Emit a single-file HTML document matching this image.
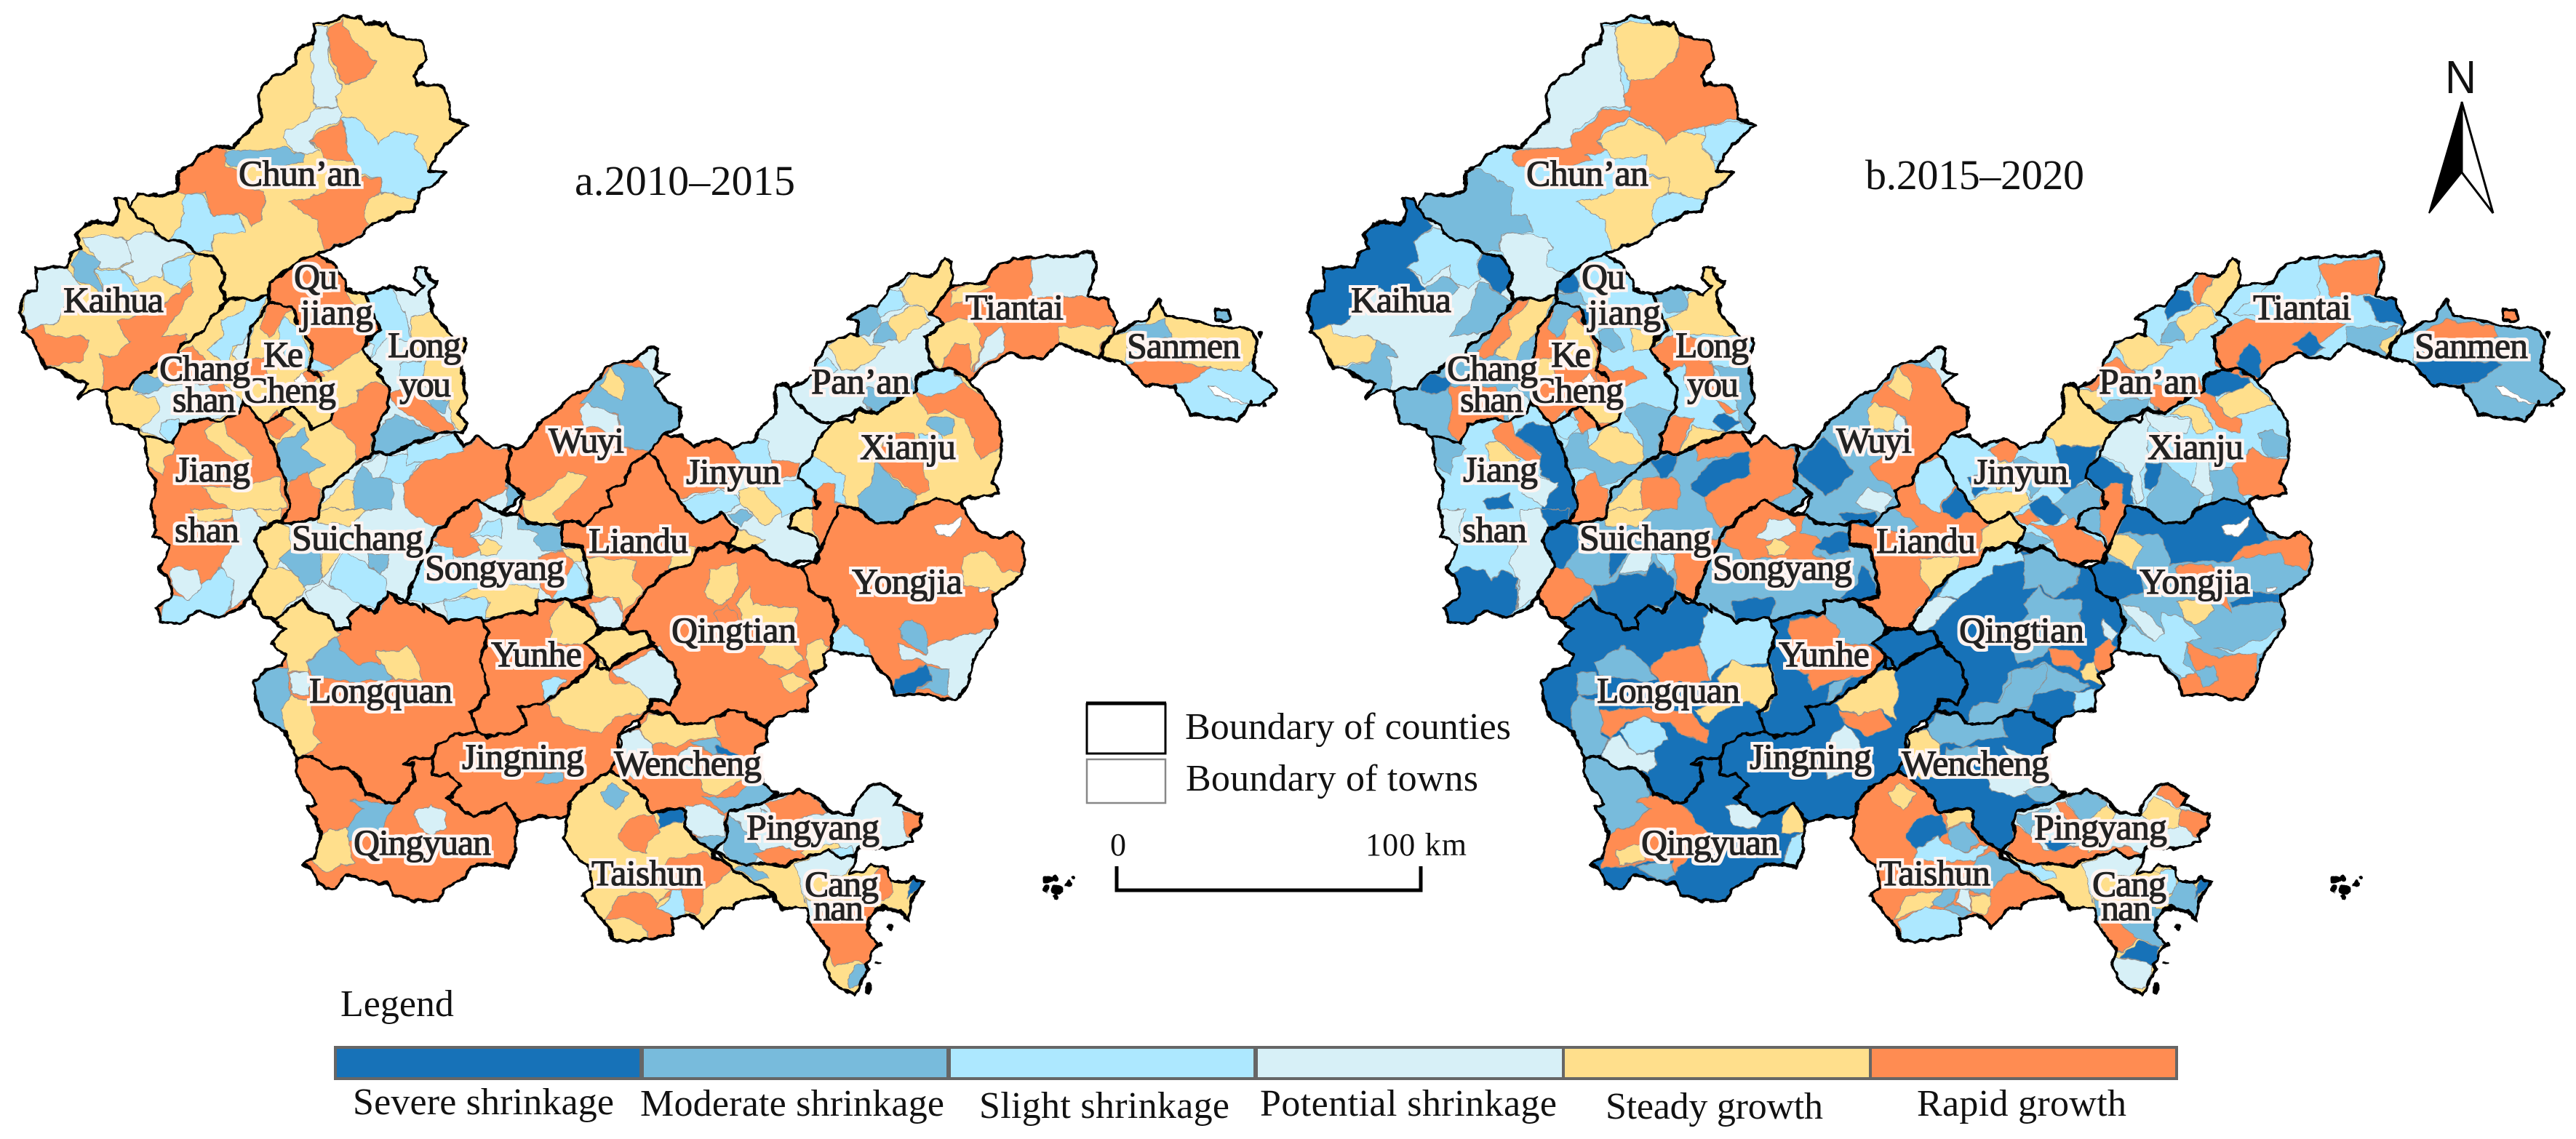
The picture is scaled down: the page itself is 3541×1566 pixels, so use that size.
<!DOCTYPE html>
<html lang="en">
<head>
<meta charset="utf-8">
<title>Shrinkage and growth maps 2010–2020</title>
<style>
html,body{margin:0;padding:0;background:#fff}
svg{display:block;position:absolute;left:0;top:0}
text{font-family:"Liberation Serif",serif;fill:#111}
.lbl{font-size:50px;fill:#222;filter:url(#halo)}
.ttl{font-size:58px}
.leg{font-size:52px}
</style>
</head>
<body>
<svg id="fig" xmlns="http://www.w3.org/2000/svg" width="3541" height="1566" viewBox="0 0 3541 1566">
<defs>
<filter id="halo" x="-15%" y="-30%" width="130%" height="160%" color-interpolation-filters="sRGB">
<feMorphology in="SourceAlpha" operator="dilate" radius="4.5" result="d"/>
<feFlood flood-color="#fff4f1"/>
<feComposite in2="d" operator="in" result="w"/>
<feMorphology in="SourceGraphic" operator="dilate" radius="0.6" result="t"/>
<feMerge><feMergeNode in="w"/><feMergeNode in="t"/></feMerge>
</filter>
<filter id="rough" filterUnits="userSpaceOnUse" x="0" y="0" width="3541" height="1566" color-interpolation-filters="sRGB">
<feTurbulence type="fractalNoise" baseFrequency="0.06" numOctaves="3" seed="4" result="n"/>
<feDisplacementMap in="SourceGraphic" in2="n" scale="10" xChannelSelector="R" yChannelSelector="G"/>
</filter>
</defs>

<g id="panel-a"></g>
<g id="panel-b" transform="translate(1770,0)"></g>

<g id="labels-a">
<text class="lbl" x="328" y="255" textLength="168">Chun’an</text>
<text class="lbl" x="87" y="429" textLength="138">Kaihua</text>
<text class="lbl" x="404" y="397" textLength="60">Qu</text>
<text class="lbl" x="413" y="446" textLength="100">jiang</text>
<text class="lbl" x="362" y="504" textLength="55">Ke</text>
<text class="lbl" x="335" y="553" textLength="127">Cheng</text>
<text class="lbl" x="219" y="523" textLength="125">Chang</text>
<text class="lbl" x="237" y="566" textLength="87">shan</text>
<text class="lbl" x="533" y="491" textLength="101">Long</text>
<text class="lbl" x="549" y="545" textLength="71">you</text>
<text class="lbl" x="241" y="662" textLength="103">Jiang</text>
<text class="lbl" x="240" y="745" textLength="89">shan</text>
<text class="lbl" x="401" y="756" textLength="181">Suichang</text>
<text class="lbl" x="584" y="797" textLength="192">Songyang</text>
<text class="lbl" x="809" y="760" textLength="137">Liandu</text>
<text class="lbl" x="754" y="622" textLength="104">Wuyi</text>
<text class="lbl" x="943" y="665" textLength="130">Jinyun</text>
<text class="lbl" x="1115" y="541" textLength="136">Pan’an</text>
<text class="lbl" x="1182" y="631" textLength="132">Xianju</text>
<text class="lbl" x="1171" y="816" textLength="152">Yongjia</text>
<text class="lbl" x="923" y="883" textLength="172">Qingtian</text>
<text class="lbl" x="1327" y="439" textLength="135">Tiantai</text>
<text class="lbl" x="1549" y="492" textLength="156">Sanmen</text>
<text class="lbl" x="675" y="916" textLength="125">Yunhe</text>
<text class="lbl" x="425" y="966" textLength="197">Longquan</text>
<text class="lbl" x="635" y="1057" textLength="168">Jingning</text>
<text class="lbl" x="844" y="1066" textLength="203">Wencheng</text>
<text class="lbl" x="486" y="1175" textLength="189">Qingyuan</text>
<text class="lbl" x="813" y="1217" textLength="153">Taishun</text>
<text class="lbl" x="1026" y="1154" textLength="183">Pingyang</text>
<text class="lbl" x="1106" y="1232" textLength="102">Cang</text>
<text class="lbl" x="1118" y="1265" textLength="69">nan</text>
</g>

<g id="labels-b" transform="translate(1770,0)">
<text class="lbl" x="328" y="255" textLength="168">Chun’an</text>
<text class="lbl" x="87" y="429" textLength="138">Kaihua</text>
<text class="lbl" x="404" y="397" textLength="60">Qu</text>
<text class="lbl" x="413" y="446" textLength="100">jiang</text>
<text class="lbl" x="362" y="504" textLength="55">Ke</text>
<text class="lbl" x="335" y="553" textLength="127">Cheng</text>
<text class="lbl" x="219" y="523" textLength="125">Chang</text>
<text class="lbl" x="237" y="566" textLength="87">shan</text>
<text class="lbl" x="533" y="491" textLength="101">Long</text>
<text class="lbl" x="549" y="545" textLength="71">you</text>
<text class="lbl" x="241" y="662" textLength="103">Jiang</text>
<text class="lbl" x="240" y="745" textLength="89">shan</text>
<text class="lbl" x="401" y="756" textLength="181">Suichang</text>
<text class="lbl" x="584" y="797" textLength="192">Songyang</text>
<text class="lbl" x="809" y="760" textLength="137">Liandu</text>
<text class="lbl" x="754" y="622" textLength="104">Wuyi</text>
<text class="lbl" x="943" y="665" textLength="130">Jinyun</text>
<text class="lbl" x="1115" y="541" textLength="136">Pan’an</text>
<text class="lbl" x="1182" y="631" textLength="132">Xianju</text>
<text class="lbl" x="1171" y="816" textLength="152">Yongjia</text>
<text class="lbl" x="923" y="883" textLength="172">Qingtian</text>
<text class="lbl" x="1327" y="439" textLength="135">Tiantai</text>
<text class="lbl" x="1549" y="492" textLength="156">Sanmen</text>
<text class="lbl" x="675" y="916" textLength="125">Yunhe</text>
<text class="lbl" x="425" y="966" textLength="197">Longquan</text>
<text class="lbl" x="635" y="1057" textLength="168">Jingning</text>
<text class="lbl" x="844" y="1066" textLength="203">Wencheng</text>
<text class="lbl" x="486" y="1175" textLength="189">Qingyuan</text>
<text class="lbl" x="813" y="1217" textLength="153">Taishun</text>
<text class="lbl" x="1026" y="1154" textLength="183">Pingyang</text>
<text class="lbl" x="1106" y="1232" textLength="102">Cang</text>
<text class="lbl" x="1118" y="1265" textLength="69">nan</text>
</g>

<text class="ttl" x="790" y="268" textLength="303">a.2010–2015</text>
<text class="ttl" x="2564" y="260" textLength="301">b.2015–2020</text>

<g>
<text x="3361" y="128" textLength="43" lengthAdjust="spacingAndGlyphs" style="font-family:'Liberation Sans',sans-serif;font-size:64px">N</text>
<polygon points="3384,140 3339,293 3384,237" fill="#000" stroke="#000" stroke-width="2"/>
<polygon points="3384,140 3427,293 3384,237" fill="#fff" stroke="#000" stroke-width="3"/>
</g>

<g>
<rect x="1494" y="968" width="108" height="68" fill="#fff" stroke="#000" stroke-width="3"/>
<line x1="1493" y1="967" x2="1603" y2="967" stroke="#000" stroke-width="5"/>
<rect x="1494" y="1044" width="108" height="60" fill="#fff" stroke="#888" stroke-width="2.5"/>
<text class="leg" x="1629" y="1016" textLength="448">Boundary of counties</text>
<text class="leg" x="1630" y="1087" textLength="402">Boundary of towns</text>
</g>

<g>
<polyline points="1535,1191 1535,1224 1953,1224 1953,1191" fill="none" stroke="#000" stroke-width="5"/>
<text class="leg" x="1526" y="1176" style="font-size:44px">0</text>
<text class="leg" x="1877" y="1176" textLength="139" style="font-size:44px">100 km</text>
</g>

<text class="leg" x="468" y="1397">Legend</text>
<g>
<rect x="461" y="1440" width="420" height="43" fill="#1772b8" stroke="#666" stroke-width="4"/>
<rect x="883" y="1440" width="420" height="43" fill="#78bbdc" stroke="#666" stroke-width="4"/>
<rect x="1305" y="1440" width="420" height="43" fill="#ade8ff" stroke="#666" stroke-width="4"/>
<rect x="1727" y="1440" width="422" height="43" fill="#d7f0f7" stroke="#666" stroke-width="4"/>
<rect x="2149" y="1440" width="422" height="43" fill="#ffdf8c" stroke="#666" stroke-width="4"/>
<rect x="2571" y="1440" width="421" height="43" fill="#ff8c52" stroke="#666" stroke-width="4"/>
<text class="leg" x="485" y="1532" textLength="359">Severe shrinkage</text>
<text class="leg" x="880" y="1534" textLength="418">Moderate shrinkage</text>
<text class="leg" x="1346" y="1537" textLength="344">Slight shrinkage</text>
<text class="leg" x="1732" y="1534" textLength="408">Potential shrinkage</text>
<text class="leg" x="2207" y="1538" textLength="299">Steady growth</text>
<text class="leg" x="2635" y="1534" textLength="288">Rapid growth</text>
</g>
</svg>

<script>
const classColors = ['#1772b8','#78bbdc','#ade8ff','#d7f0f7','#ffdf8c','#ff8c52'];
const holeColor = '#ffffff';
const frames = {A:[0,0,1/2.24],B:[700,300,1/2.24],C:[200,700,1/2.24],D:[800,800,1/2.613],O:[0,0,1]};

const counties = [
['A','965,72 1010,70 1060,50 1110,50 1125,75 1190,70 1205,105 1265,125 1300,130 1315,185 1270,235 1290,260 1335,260 1365,270 1385,320 1385,365 1440,382 1400,420 1345,475 1325,525 1375,535 1335,570 1290,590 1275,645 1235,655 1180,680 1140,700 1090,740 1000,770 960,790 925,805 880,835 830,870 825,905 780,925 740,920 695,925 680,880 690,850 670,800 600,775 575,745 520,740 480,720 465,690 430,670 395,635 430,600 490,600 550,590 550,530 590,505 630,465 680,448 720,455 770,395 805,365 800,290 825,245 880,220 910,195 915,150 965,130'],
['A','355,610 385,615 395,635 430,670 465,690 480,720 520,740 575,745 600,775 670,800 690,850 680,880 695,925 640,990 630,1020 560,1060 540,1090 470,1130 410,1170 395,1195 320,1205 290,1200 240,1225 270,1185 240,1170 170,1135 140,1130 120,1090 100,1050 70,1020 80,1000 60,955 75,905 115,895 110,825 150,825 205,820 220,780 250,765 235,720 260,690 300,680 350,690 365,650'],
['A','320,1205 395,1195 410,1170 470,1130 540,1090 560,1060 630,1020 640,990 695,925 745,922 780,925 825,905 830,930 800,980 770,1010 760,1090 760,1130 750,1240 735,1270 680,1295 640,1290 590,1300 555,1305 530,1365 480,1350 440,1345 425,1320 345,1300'],
['A','830,870 880,835 925,805 975,785 1030,820 1060,860 1065,895 1125,905 1170,1020 1125,1050 1115,1075 1150,1120 1175,1130 1160,1150 1200,1195 1190,1270 1150,1340 1150,1395 1110,1420 1060,1460 1000,1510 985,1568 978,1598 898,1613 863,1603 890,1568 880,1490 850,1390 810,1305 840,1290 900,1250 950,1290 960,1325 1020,1290 1030,1260 980,1160 950,1140 960,1110 960,1060 915,995 900,945 830,930'],
['A','830,930 900,945 915,995 960,1060 960,1110 950,1140 980,1160 1030,1260 1020,1290 960,1325 950,1290 900,1250 840,1290 810,1305 770,1260 750,1240 760,1130 760,1090 770,1010 800,980'],
['A','1065,895 1125,905 1205,885 1275,905 1300,880 1275,855 1285,825 1315,825 1320,860 1345,870 1325,900 1335,970 1390,1030 1430,1045 1420,1125 1435,1235 1410,1270 1435,1305 1420,1330 1400,1330 1350,1335 1270,1370 1200,1395 1150,1395 1150,1340 1190,1270 1200,1195 1160,1150 1175,1130 1150,1120 1115,1075 1125,1050 1170,1020 1125,905'],
['A','440,1345 480,1350 530,1365 555,1305 590,1300 640,1290 680,1295 735,1270 750,1240 770,1260 810,1305 850,1390 880,1490 890,1568 863,1603 798,1628 788,1668 823,1743 768,1838 738,1878 663,1903 613,1883 553,1918 498,1913 483,1873 533,1828 518,1778 488,1753 523,1678 468,1653 483,1628 463,1568 480,1500 460,1440'],
['O','358,727 385,716 401,720 437,713 446,674 473,652 496,634 513,623 536,623 567,612 603,596 625,594 638,614 656,600 679,616 700,612 698,663 720,678 691,706 655,688 635,700 610,720 593,738 588,755 570,790 563,818 562,827 535,814 512,843 495,832 477,850 481,865 459,865 450,845 428,838 414,823 379,852 361,847 343,820 367,778 352,745'],
['C','975,0 1019,-27 1100,14 1150,15 1195,45 1280,49 1285,109 1345,114 1350,130 1375,275 1290,280 1205,285 1205,325 1150,320 1090,330 1045,350 1030,335 930,345 855,295 860,320 810,285 815,265 830,200 870,125 880,85 930,40'],
['B','0,700 30,710 60,680 100,625 150,590 190,545 225,535 260,510 290,465 330,445 380,440 430,400 460,405 450,460 490,480 450,515 490,570 525,585 525,640 470,665 430,720 380,760 350,820 300,840 315,880 260,910 240,945 195,930 160,945 60,940 30,910 -20,910 20,905 45,860 0,815'],
['B','430,720 380,760 350,820 300,840 315,880 260,910 240,945 195,930 160,945 165,1005 225,1010 235,1070 255,1165 175,1180 235,1205 280,1265 345,1265 350,1250 415,1160 480,1090 560,1060 590,1020 650,1000 680,1005 700,960 650,905 600,940 545,895 530,870 495,830 450,735'],
['B','470,665 525,670 570,700 640,680 690,705 760,680 770,650 820,600 820,520 840,510 870,525 880,575 920,600 965,630 1000,620 945,690 935,730 895,770 890,800 935,840 950,870 950,890 885,900 860,950 930,975 960,1020 950,1060 905,1050 870,1070 810,1050 750,1010 680,1030 680,1005 700,960 650,905 600,940 545,895 530,870 495,830 450,735 430,720'],
['B','870,525 930,480 980,380 1040,365 1075,360 1070,310 1045,305 1090,280 1130,270 1170,225 1230,170 1300,180 1340,125 1365,140 1360,210 1300,295 1335,325 1285,365 1285,400 1310,470 1260,485 1250,530 1180,570 1130,600 1075,585 1060,600 1000,620 965,630 920,600 880,575'],
['B','1000,620 1060,625 1075,590 1130,600 1180,570 1250,530 1260,485 1310,470 1360,465 1420,505 1470,560 1510,620 1520,700 1505,760 1490,810 1510,850 1410,860 1390,880 1320,865 1280,880 1230,895 1200,935 1130,940 1070,890 1015,890 985,960 960,1020 930,975 860,950 885,900 950,890 950,870 935,840 890,800 895,770 935,730 945,690'],
['B','1015,890 1070,890 1130,940 1200,935 1230,895 1280,880 1320,865 1390,880 1440,960 1500,985 1550,965 1582,1000 1582,1098 1505,1153 1490,1160 1500,1250 1485,1290 1440,1340 1410,1440 1370,1485 1290,1470 1190,1470 1175,1425 1110,1350 1040,1340 1000,1330 990,1290 1010,1250 985,1180 930,1150 900,1075 945,1050 960,1020 985,960'],
['B','350,1250 415,1160 480,1090 560,1060 590,1020 650,1000 680,1010 720,1025 760,1010 810,1050 870,1070 900,1075 930,1150 985,1180 1010,1250 990,1290 1000,1330 965,1345 975,1380 930,1410 945,1440 920,1460 915,1510 918,1518 867,1518 815,1540 790,1566 738,1540 725,1518 678,1518 627,1540 592,1557 520,1553 498,1523 430,1523 438,1484 498,1497 525,1440 500,1370 445,1320 420,1270 370,1285'],
['C','360,330 400,350 430,370 385,415 430,450 420,480 380,490 335,530 345,620 380,660 430,680 465,770 510,755 555,795 625,800 660,830 680,885 710,885 740,905 775,900 825,840 825,785 795,780 810,770 880,770 900,730 950,695 1030,690 1000,625 1060,570 1030,470 1055,375 1035,350 1030,335 930,345 855,295 860,320 810,285 790,290 750,255 700,320 660,295 620,335 630,370 580,370 560,325 510,310 480,275 400,340'],
['C','1035,350 1090,330 1150,320 1205,325 1205,285 1290,280 1360,320 1400,370 1355,410 1395,450 1350,510 1220,600 1155,610 1175,665 1130,685 1050,705 1030,690 1000,625 1060,570 1030,470 1055,375'],
['C','1395,450 1430,494 1515,434 1565,424 1620,474 1645,544 1615,599 1555,584 1550,627 1505,650 1460,691 1470,720 1434,807 1344,858 1310,900 1300,945 1200,950 1145,965 1130,930 1110,905 1060,930 1005,945 930,890 970,850 935,815 880,820 880,770 900,730 950,695 1030,690 1050,705 1130,685 1175,665 1155,610 1220,600 1350,510'],
['B','235,1310 280,1265 345,1265 365,1280 425,1270 445,1310 395,1330 345,1355 310,1390 270,1380 275,1340'],
['C','465,770 510,755 555,795 625,800 660,830 680,885 710,885 740,905 775,900 825,840 825,785 795,780 810,770 880,770 880,820 935,815 970,850 930,890 1005,945 1060,930 1110,905 1130,930 1150,965 1140,1050 1115,1105 1080,1090 1000,1100 985,1135 920,1170 905,1205 830,1205 765,1185 745,1150 690,1150 615,1125 585,1170 530,1155 510,1110 485,1095 520,1075 540,1000 500,915 525,905 465,830'],
['D','240,470 195,495 205,520 135,545 125,580 135,610 105,680 185,735 235,790 250,830 350,810 375,830 370,880 400,920 470,965 510,940 525,900 515,870 530,825 650,800 700,760 650,720 625,600 665,575 660,525 600,490 585,465 530,465 470,490 430,510 345,505 320,470'],
['D','0,740 105,680 185,735 235,790 250,830 290,825 350,810 375,830 370,880 400,920 470,965 470,990 540,1030 590,1065 650,1095 690,1125 640,1135 555,1150 545,1175 500,1170 440,1245 385,1195 320,1215 320,1270 240,1280 160,1295 110,1285 80,1220 0,1125 36,1104 25,1016 -16,999 -69,917 -51,841 -40,789'],
['D','530,825 650,800 700,770 760,760 780,745 830,770 860,790 885,825 970,840 980,790 1040,730 1100,735 1140,770 1125,805 1225,835 1215,880 1180,910 1185,935 1130,950 1060,960 1000,950 985,990 930,990 890,965 800,990 730,1020 660,1010 590,1020 540,1000 470,965 510,940 525,900 515,870'],
['D','470,965 540,1000 590,1020 660,1010 730,1020 800,990 890,965 930,990 985,990 960,1050 1010,1040 1040,1015 1100,1030 1110,1075 1165,1080 1190,1060 1225,1080 1185,1140 1175,1215 1140,1185 1090,1170 1050,1180 1020,1250 1060,1300 1020,1370 1030,1390 1000,1440 975,1490 955,1470 920,1455 890,1420 870,1370 885,1330 860,1280 810,1220 805,1175 770,1165 715,1180 690,1125 650,1095 590,1065 540,1030'],
['O','1280,432 1307,394 1355,388 1372,362 1411,354 1468,352 1502,347 1507,365 1496,405 1524,413 1535,444 1524,472 1507,492 1456,472 1434,492 1383,487 1344,510 1334,525 1307,507 1285,510 1273,479 1273,463 1296,445'],
['O','1513,490 1524,462 1552,449 1575,439 1592,411 1603,434 1660,446 1722,454 1728,474 1722,510 1750,530 1755,536 1733,556 1716,558 1699,579 1637,569 1614,530 1575,530 1547,502'],
['O','1671,428 1688,426 1690,436 1680,441 1671,437']
];

const baseA = [4,4,4,4,4,3,5,3,3,5,5,3,3,4,5,5,5,5,5,4,5,5,4,3,4,5,2,1];
const baseB = [2,3,1,2,5,2,2,1,1,1,5,2,2,2,1,0,0,0,0,0,0,0,5,3,4,2,1,5];

const patchesA = [
['A',3,'965,85 1005,80 1015,190 1050,265 1035,300 1040,330 970,330 960,240'],
['A',3,'1040,330 1060,350 1050,370 985,395 950,430 985,465 910,475 870,425 880,400 950,370 970,335'],
['A',5,'1010,85 1060,60 1050,85 1160,190 1110,245 1060,265 1035,210 1010,140'],
['A',5,'950,430 1055,370 1065,440 1105,480 1080,500 1000,490 990,460'],
['A',2,'1055,365 1100,365 1130,405 1165,445 1210,405 1285,415 1270,460 1310,490 1325,530 1375,535 1335,570 1280,615 1175,590 1175,545 1105,540 1080,480 1065,430'],
['A',1,'690,490 705,462 800,465 880,450 905,475 940,475 935,500 880,510 710,510'],
['A',5,'550,590 550,530 590,505 630,465 680,448 700,462 690,510 735,520 740,570 810,590 820,620 810,675 775,700 740,650 690,665 660,665 630,590 570,600'],
['A',5,'890,620 1000,590 1050,550 1175,545 1175,590 1130,615 1125,670 1140,690 1090,735 1000,765 980,710 980,680 920,650'],
['A',2,'570,600 625,595 660,665 735,655 755,715 660,725 655,775 600,770 575,745 520,740 555,700 565,620'],
['A',3,'250,735 335,725 395,740 410,770 405,800 365,825 310,825 285,780'],
['A',3,'385,740 445,710 520,745 575,750 600,775 550,790 500,815 495,850 430,870 365,830 410,800'],
['A',1,'250,770 285,790 310,810 295,835 300,860 325,905 235,860 220,810'],
['A',2,'295,830 365,830 425,880 430,900 325,905'],
['A',2,'600,785 580,820 590,860 555,890 500,860 500,815 550,795'],
['A',3,'115,830 205,825 235,860 260,900 200,930 180,990 140,1000 90,1015 70,965 80,905 115,895'],
['A',5,'590,870 595,900 560,950 515,1010 500,1035 580,1030 560,1060 540,1090 470,1130 410,1170 395,1195 310,1205 320,1135 305,1090 340,1100 405,1050 380,1030 360,985 460,960 520,930 560,890'],
['A',5,'75,1015 130,1005 145,1030 250,1035 270,1050 260,1110 180,1125 140,1125 100,1050'],
['A',2,'825,910 780,1010 770,1060 720,1070 700,1130 640,1080 680,1040 690,985 745,960 760,925'],
['A',3,'770,1010 750,1050 720,1090 750,1130 760,1100'],
['A',5,'540,1090 590,1065 630,1100 660,1130 680,1180 690,1200 640,1220 530,1180 490,1120'],
['A',3,'415,1215 490,1190 640,1180 700,1190 750,1240 735,1270 640,1290 555,1305 525,1365 430,1320 490,1270 480,1225'],
['A',1,'410,1175 450,1150 510,1170 490,1200 440,1215 410,1200'],
['A',2,'500,1300 550,1290 555,1305 525,1365 495,1330'],
['A',5,'640,1190 690,1180 700,1220 650,1230'],
['A',5,'830,935 900,945 860,1000 830,1040 800,1010'],
['A',2,'860,1000 880,980 915,1010 950,1070 950,1130 890,1130 860,1060'],
['A',5,'760,1110 810,1100 830,1170 760,1170'],
['A',5,'930,1150 960,1130 1000,1160 950,1190'],
['A',-1,'900,1170 930,1145 945,1180 915,1190'],
['A',5,'810,1305 850,1265 905,1310 855,1360'],
['A',5,'830,870 880,835 925,805 975,785 1030,820 1060,860 1065,895 1085,930 1160,960 1175,1020 1115,1075 1010,1150 960,1100 955,1060 915,1000 900,940 830,930'],
['A',2,'960,1100 1000,1120 1030,1140 975,1150 950,1130'],
['A',5,'1100,1210 1150,1170 1200,1195 1190,1270 1145,1340 1140,1400 1095,1425 1095,1370 1020,1300 1030,1260 1095,1240'],
['A',1,'850,1370 940,1320 950,1350 925,1380 1000,1430 945,1460 880,1480'],
['A',5,'890,1480 950,1450 960,1500 990,1510 980,1568 978,1598 898,1613 863,1603 890,1568'],
['A',2,'1125,905 1205,890 1230,940 1250,960 1265,1030 1270,1050 1190,1040 1140,1110 1150,1060 1125,1050 1170,1020 1150,960'],
['A',4,'1265,975 1335,965 1390,1030 1430,1045 1420,1125 1435,1235 1410,1270 1435,1305 1420,1325 1390,1300 1385,1240 1310,1200 1300,1130 1270,1050'],
['A',5,'1195,1220 1230,1200 1290,1220 1340,1260 1405,1320 1350,1335 1255,1280'],
['A',1,'1310,1225 1385,1235 1370,1270 1340,1260'],
['A',1,'1150,1340 1215,1275 1260,1295 1350,1335 1270,1370 1200,1395 1150,1395'],
['A',2,'1230,1120 1310,1110 1300,1170 1230,1180'],
['A',4,'440,1345 530,1365 540,1380 500,1410 510,1440 500,1470 465,1430'],
['A',4,'625,1320 690,1290 700,1340 780,1400 770,1430 730,1420 680,1380 640,1350'],
['A',4,'620,1500 720,1500 860,1470 880,1568 700,1568'],
['C',4,'140,0 280,0 260,30 170,40'],
['C',4,'340,0 415,0 415,35 360,55'],
['C',3,'270,0 330,0 370,40 340,100 375,175 320,270 260,310 260,230 235,180 265,110'],
['C',2,'50,300 85,265 130,280 175,230 230,180 270,220 260,310 215,335 165,315 105,350 50,345'],
['C',3,'75,190 105,175 160,190 175,240 130,285 85,240'],
['C',4,'355,60 415,35 440,60 450,120 400,180 375,175 340,100'],
['C',4,'375,175 410,180 450,190 500,250 440,290 400,340 360,330 320,270'],
['C',1,'410,155 450,125 540,130 545,220 490,245 450,190'],
['C',4,'545,130 600,130 570,180 545,220'],
['C',2,'570,200 610,130 660,155 680,165 740,215 745,265 720,310 660,295 620,270 565,230'],
['C',1,'690,140 750,140 745,180 720,200 690,170'],
['C',3,'495,260 545,225 565,235 660,290 620,335 630,370 580,370 560,325 510,310'],
['A',5,'1240,1490 1310,1420 1420,1390 1470,1350 1520,1385 1565,1385 1560,1510 1445,1568 1395,1610 1330,1620 1250,1568'],
['A',1,'1085,1470 1120,1430 1170,1470 1210,1480 1210,1568 1090,1568'],
['A',4,'995,1550 1060,1480 1090,1480 1090,1568 990,1568'],
['C',4,'540,0 680,0 640,50 530,40'],
['A',2,'1150,1400 1250,1400 1300,1420 1240,1490 1210,1480 1170,1470 1120,1430'],
['A',3,'1115,1430 1170,1400 1195,1400 1185,1450 1150,1470'],
['A',2,'1250,1380 1400,1335 1430,1390 1310,1420 1250,1430'],
['B',1,'0,815 45,860 20,905 -5,915 -10,840'],
['C',5,'930,40 975,0 1019,-27 1040,30 1000,80 1040,130 960,150 935,130 880,95'],
['C',2,'820,225 885,110 945,120 950,160 1000,215 1050,230 960,270 930,275 860,290 815,280'],
['C',2,'1050,35 1100,30 1095,90 1060,80 1000,90 1030,60'],
['C',4,'1020,120 1060,90 1095,110 1080,140 1030,145'],
['C',1,'1150,15 1195,45 1280,60 1285,125 1220,135 1195,95 1210,70 1150,60'],
['C',5,'1205,150 1285,125 1320,120 1320,180 1250,280 1210,230'],
['C',4,'1285,120 1345,115 1345,165 1320,170'],
['C',2,'1320,170 1345,190 1375,275 1290,280 1250,275'],
['C',4,'960,270 1050,230 1130,235 1210,240 1205,325 1150,320 1090,330 1045,335 1060,290'],
['C',2,'920,280 1040,275 1055,290 1045,345 1030,335 930,345'],
['B',1,'240,550 280,490 330,450 430,460 450,520 490,570 525,590 525,640 470,665 430,715 350,705 335,600 215,570'],
['B',4,'280,520 310,460 355,510 345,560 320,545'],
['B',3,'390,430 430,400 460,405 450,460 490,480 450,515 430,465'],
['B',3,'215,590 240,570 335,605 340,680 290,650 230,640'],
['B',4,'35,870 100,860 180,780 245,800 185,860 135,910 160,945 60,940'],
['B',5,'450,735 430,720 470,665 525,670 570,700 640,680 690,705 720,775 700,840 640,830 530,860 495,830'],
['B',2,'690,705 760,680 800,690 805,760 780,770 720,775'],
['B',5,'805,745 895,750 880,790 845,800 810,790'],
['B',2,'535,870 590,850 650,835 725,870 670,905 650,905 600,940 545,895'],
['B',4,'700,840 760,820 840,900 790,950 720,880'],
['B',1,'670,910 725,895 750,915 715,955'],
['B',2,'770,830 850,810 890,800 950,870 950,890 885,900 840,925 830,890'],
['B',4,'680,1005 705,960 790,990 750,1010 700,1030'],
['B',4,'1210,210 1240,170 1300,180 1340,125 1365,140 1360,210 1300,295 1280,270 1230,265 1200,215'],
['B',2,'1130,270 1170,225 1205,225 1225,265 1130,310'],
['B',1,'1050,310 1090,280 1130,275 1145,310 1110,360 1075,360'],
['B',1,'1140,320 1165,315 1195,375 1115,390'],
['B',4,'1165,320 1230,270 1280,270 1295,320 1250,345 1200,385'],
['B',4,'980,390 1040,365 1080,360 1110,395 1160,395 1110,440 1060,470 1020,470 1005,430'],
['B',1,'1100,525 1130,520 1240,490 1250,530 1180,570 1130,600 1090,575'],
['B',2,'950,450 980,430 1010,470 960,500'],
['B',2,'1250,530 1260,485 1310,470 1360,465 1400,510 1340,535 1280,550'],
['B',5,'1250,530 1280,550 1340,535 1400,510 1470,560 1510,620 1520,700 1450,745 1420,660 1400,620 1340,590 1290,610 1260,560'],
['B',1,'1280,635 1320,610 1370,620 1370,660 1340,670 1300,650'],
['B',5,'1160,660 1240,660 1260,700 1290,830 1250,860 1220,820 1130,755'],
['B',1,'1070,855 1110,830 1130,755 1220,830 1260,870 1230,895 1200,935 1130,940 1075,890'],
['B',2,'895,770 940,730 1000,780 1035,795 1030,850 1040,880 990,880 955,835 935,840 890,800'],
['B',5,'935,845 970,815 1005,820 1000,870 1040,885 1015,890 985,960 960,1010 935,960'],
['B',2,'1260,665 1330,665 1340,750 1270,720'],
['B',4,'1395,1040 1470,1020 1520,1085 1575,1095 1582,1098 1505,1153 1480,1145 1400,1130'],
['B',2,'990,1290 1030,1255 1085,1290 1115,1350 1040,1340 1000,1330'],
['B',1,'1200,1265 1240,1235 1280,1260 1295,1300 1285,1340 1210,1300'],
['B',3,'1195,1310 1285,1345 1290,1315 1380,1290 1490,1260 1485,1290 1440,1340 1410,1440 1370,1485 1350,1470 1355,1390 1260,1360 1210,1360'],
['B',1,'1285,1380 1355,1390 1350,1470 1260,1445 1305,1430'],
['B',0,'1190,1420 1235,1400 1285,1370 1305,1430 1260,1440 1255,1465 1185,1465'],
['B',-1,'1310,950 1350,945 1390,920 1400,930 1360,980 1320,970'],
['B',-1,'1440,1140 1475,1135 1470,1150 1445,1150'],
['B',4,'490,1080 495,1040 555,1010 580,1020 560,1060'],
['B',4,'230,1040 300,1050 385,1055 380,1110 415,1150 350,1215 340,1170 245,1160'],
['B',3,'250,1190 320,1165 350,1220 345,1265 280,1265'],
['B',4,'615,1085 700,1065 705,1115 690,1170 640,1190 600,1150 620,1110'],
['B',4,'700,1190 735,1130 750,1190 885,1200 880,1300 790,1310 770,1355 850,1390 905,1360 870,1300 790,1250 720,1240'],
['B',5,'630,1215 670,1190 710,1240 650,1260'],
['B',4,'915,1310 960,1300 990,1320 965,1345 975,1380 930,1400 910,1350'],
['B',4,'830,1420 870,1395 920,1430 860,1460'],
['C',4,'1235,600 1350,510 1395,465 1430,495 1435,540 1500,530 1568,580 1550,627 1505,630 1445,640 1400,690 1340,680 1260,640'],
['C',1,'1205,845 1230,815 1290,810 1280,835'],
['D',3,'115,320 280,235 355,370 320,440 250,425 200,380 130,340'],
['C',1,'630,895 680,900 715,905 770,910 745,945 730,985 690,1000 625,1020 615,985 670,925'],
['C',3,'825,935 880,910 925,940 920,985 880,1005 840,980'],
['C',4,'510,1080 540,1000 620,975 625,1030 640,1090 600,1090 555,1120'],
['C',4,'430,370 400,340 480,275 510,310 560,325 580,370 600,385 585,395 550,425 500,465 500,500 440,500 430,450 385,415'],
['C',1,'500,470 545,430 590,395 605,440 650,480 680,475 730,470 760,530 690,530 630,535 510,510'],
['C',4,'705,440 780,440 810,420 845,480 850,530 790,520 765,530'],
['C',1,'335,530 380,490 440,490 445,570 450,610 425,620 430,680 380,660 345,620'],
['C',3,'445,505 500,500 510,540 500,575 450,565'],
['C',4,'450,570 510,600 520,690 545,720 465,770 430,680 420,620'],
['C',4,'1240,340 1290,280 1360,320 1400,370 1355,410 1340,420 1250,410 1250,370'],
['C',2,'1220,535 1260,515 1295,530 1230,595'],
['D',4,'205,520 240,480 320,470 345,505 430,510 470,490 490,555 390,565 340,600 300,580 250,590'],
['D',3,'135,545 205,530 250,590 270,650 190,710 125,660 135,600'],
['D',1,'390,575 480,560 510,600 470,620 430,600'],
['D',0,'480,595 510,595 590,630 550,635 490,615'],
['D',3,'340,620 395,590 440,620 420,690 340,680'],
['D',4,'410,700 630,700 560,720 480,770 430,740'],
['D',1,'435,770 480,775 540,770 600,730 650,720 695,760 650,800 530,825 510,830'],
['D',0,'270,830 350,810 375,830 370,860 320,870 285,890'],
['D',3,'365,800 430,800 510,835 515,910 480,920 410,915 370,880'],
['D',1,'410,920 480,910 525,910 510,940 470,965'],
['D',1,'70,760 110,725 170,765 120,815 80,790'],
['D',5,'125,905 170,855 250,835 285,895 235,930 235,975 165,960'],
['D',5,'310,1000 430,965 540,1035 440,1110 430,1170 405,1200 365,1170 360,1110 280,1145 320,1105 240,1100'],
['D',5,'80,1215 130,1130 220,1110 280,1150 270,1175 330,1210 320,1270 240,1280 215,1230 140,1205'],
['D',2,'275,1175 310,1145 325,1105 360,1110 375,1190 330,1210'],
['D',1,'530,840 580,880 615,930 650,965 620,1010 590,1015 540,1000 505,965 510,930 520,880'],
['D',5,'660,800 760,760 780,745 850,790 880,830 800,840 750,870 700,860'],
['D',5,'620,980 680,950 760,960 830,960 800,990 730,1020 660,1010'],
['D',4,'790,970 900,940 930,960 890,965 800,990'],
['D',2,'900,960 975,950 985,990 930,990'],
['D',5,'1150,825 1225,835 1215,880 1170,920 1150,870'],
['D',2,'640,815 690,850 660,860'],
['D',1,'470,990 540,1030 590,1020 650,1040 670,1065 620,1070 560,1035'],
['D',3,'765,1015 890,965 930,990 985,990 945,1050 880,1060 810,1070 800,1100 800,1150'],
['D',3,'805,1130 840,1160 900,1150 830,1220 810,1210'],
['D',5,'1040,1060 1070,1025 1100,1030 1115,1115 1090,1150 1010,1150 900,1150 820,1220 860,1280 885,1330 910,1380 980,1360 1020,1370 1060,1300 1020,1250 1050,1180'],
['D',1,'975,1380 1020,1370 1030,1390 1000,1440 960,1460 955,1430'],
['D',0,'1185,1070 1200,1060 1225,1080 1185,1125 1165,1135'],
['D',2,'1075,1165 1130,1175 1175,1215 1140,1185'],
['O',3,'1418,357 1502,347 1507,365 1496,408 1418,408'],
['B',4,'1365,225 1450,195 1480,210 1400,250 1360,270'],
['B',4,'1285,360 1360,310 1430,310 1455,400 1425,470 1420,390 1375,380 1340,440 1320,470 1295,420'],
['B',3,'1430,470 1470,370 1520,330 1530,400 1475,440'],
['O',4,'1456,449 1530,449 1507,490 1456,470'],
['O',4,'1575,434 1592,411 1603,434 1722,454 1728,490 1705,510 1660,505 1581,490'],
['O',1,'1552,451 1603,439 1609,464 1564,469'],
['O',5,'1547,502 1581,492 1665,505 1637,525 1575,530'],
['O',4,'1513,490 1524,462 1552,454 1547,502'],
['O',-1,'1662,532 1668,540 1700,554 1715,556 1700,548 1672,532']
];

const patchesB = [
['A',3,'965,85 1005,80 1015,130 1040,330 970,330 950,360 880,400 870,455 700,458 770,395 805,375 800,290 825,245 880,220 910,195 915,150 965,130'],
['A',4,'1010,85 1050,65 1125,75 1190,70 1205,110 1195,180 1110,245 1060,265 1035,210 1010,140'],
['A',5,'1205,110 1265,125 1300,130 1315,185 1270,235 1290,260 1335,260 1365,270 1385,320 1385,365 1285,390 1210,405 1165,445 1130,400 1055,360 1060,330 1040,330 1035,290 1060,250 1110,245 1195,180'],
['A',5,'1055,340 1060,360 985,390 950,430 985,465 910,480 945,490 880,510 710,510 690,490 705,462 870,455 870,420 950,370 970,335'],
['A',2,'1285,390 1385,375 1440,382 1345,475 1325,500 1270,455 1285,415'],
['A',4,'950,430 1055,370 1130,405 1165,445 1210,405 1285,415 1270,460 1310,490 1325,530 1375,535 1290,590 1275,615 1175,590 1175,545 1105,540 1105,480 1000,490 985,465'],
['A',4,'890,620 1000,590 1050,550 1175,545 1175,590 1130,615 1125,670 1140,690 1090,735 1000,765 980,710 980,680 920,650'],
['A',1,'395,635 430,600 490,600 550,590 550,530 595,520 690,580 685,665 735,655 755,715 660,725 655,775 600,770 575,745 520,740 480,720 465,690 430,670'],
['A',3,'660,730 700,720 800,730 815,760 795,790 800,820 850,845 825,905 780,925 740,920 695,925 680,880 690,850 670,800 655,775'],
['A',0,'355,610 385,615 395,635 450,695 385,740 405,770 405,800 365,825 425,880 430,895 325,905 280,890 215,930 190,990 140,1000 90,1015 70,1020 80,1000 60,955 75,905 115,895 110,825 150,825 205,820 220,780 250,765 235,720 260,690 300,680 350,690 365,650'],
['A',2,'385,740 450,700 520,745 575,750 600,775 580,820 595,860 555,890 495,860 500,815 430,870 365,825 405,795'],
['A',0,'600,780 670,800 690,850 680,880 650,910 620,880 580,830'],
['A',1,'430,885 490,850 530,885 500,915 430,900'],
['A',1,'590,870 615,880 650,910 695,925 640,990 630,1020 560,1030 500,1035 520,1000 565,950'],
['A',4,'75,1015 130,1005 145,1030 250,1035 270,1050 260,1110 180,1125 140,1125 100,1050'],
['A',1,'175,1135 260,1110 270,1050 330,1080 340,1100 305,1100 320,1130 315,1205 240,1225 270,1185 240,1170'],
['A',5,'580,1090 640,1010 700,930 745,925 690,985 680,1040 630,1090 600,1100'],
['A',4,'745,925 825,910 780,1005 720,1070 700,1115 635,1090 680,1040 690,985'],
['A',0,'410,1175 450,1150 510,1170 490,1200 440,1215 410,1200'],
['A',5,'495,1190 640,1190 640,1220 670,1290 590,1300 555,1305 530,1365 495,1320 510,1260'],
['A',3,'700,1190 750,1240 735,1270 680,1290 670,1220'],
['A',1,'830,935 900,945 860,1000 830,1040 800,1010'],
['A',4,'860,990 880,980 915,1010 950,1070 950,1130 880,1130 850,1050'],
['A',4,'770,1110 810,1100 830,1170 760,1170'],
['A',-1,'900,1170 930,1145 945,1180 915,1190'],
['A',0,'900,950 930,950 925,1000 905,990'],
['A',4,'920,1180 1000,1200 1030,1270 1020,1300 960,1300 915,1260'],
['A',0,'830,870 880,835 900,880 890,900 830,900'],
['A',1,'830,905 900,900 925,940 830,935'],
['A',4,'1060,1010 1130,1030 1170,1020 1115,1075 1060,1080'],
['A',1,'950,1020 1000,1010 1040,1070 1005,1085 965,1060'],
['A',5,'955,1110 1000,1150 1065,1130 1105,1160 1040,1190 1010,1210 950,1170'],
['A',1,'1030,1260 1095,1240 1190,1270 1145,1340 1140,1400 1060,1460 990,1490 960,1500 950,1450 860,1440 850,1390 870,1340 920,1330 930,1370 1000,1400 1095,1400 1095,1360'],
['A',4,'925,1380 985,1310 1060,1340 1095,1375 1095,1425 1000,1425'],
['A',2,'810,1305 850,1265 905,1310 855,1360'],
['A',5,'880,1270 905,1250 955,1290 950,1320 905,1335'],
['A',5,'890,1480 950,1450 960,1500 990,1510 980,1568 978,1598 898,1613 863,1603 890,1568'],
['A',1,'1125,905 1205,885 1235,930 1230,960 1170,965'],
['A',4,'1230,905 1275,905 1300,880 1275,855 1285,825 1315,825 1320,860 1345,870 1325,900 1335,970 1390,1030 1270,1030 1190,1030 1160,985 1235,955'],
['A',5,'1115,1075 1150,1050 1190,1030 1270,1040 1310,1130 1310,1225 1385,1265 1350,1270 1320,1230 1230,1200 1220,1120 1160,1150 1150,1120'],
['A',1,'1310,1130 1420,1125 1435,1235 1410,1270 1435,1305 1420,1325 1390,1300 1385,1240'],
['A',0,'1310,1300 1345,1270 1395,1300 1350,1330'],
['A',5,'1150,1340 1195,1280 1250,1290 1205,1395 1150,1395'],
['A',4,'1205,1395 1250,1310 1350,1330 1270,1370'],
['A',1,'440,1345 530,1365 550,1380 505,1410 510,1440 500,1470 465,1430'],
['A',5,'625,1320 690,1290 700,1340 780,1400 770,1430 730,1420 680,1380 640,1350'],
['A',0,'700,1340 730,1300 815,1315 850,1390 880,1490 885,1568 860,1600 800,1625 780,1560 830,1500 775,1450 780,1395'],
['A',4,'615,1370 650,1360 720,1420 650,1430 620,1420'],
['A',3,'770,1460 830,1490 790,1560 720,1520'],
['A',0,'600,1540 680,1520 690,1568 620,1568'],
['C',3,'265,100 270,0 340,0 370,40 340,100 375,175 320,270 260,310 265,220 235,170'],
['C',3,'20,0 100,0 80,60 95,105 70,110 20,85 35,60'],
['C',0,'60,200 75,190 105,175 160,190 180,220 210,185 260,210 260,310 215,335 165,315 105,350 50,345 35,305 85,260 70,210'],
['C',0,'330,0 415,0 415,35 355,60'],
['C',0,'355,60 415,35 445,65 450,120 400,180 375,175 340,100'],
['C',5,'375,175 410,180 460,220 500,250 440,290 400,340 360,330 320,270'],
['C',4,'530,30 540,0 680,0 640,50 530,50'],
['C',0,'545,130 600,130 570,180 545,220'],
['C',0,'500,240 560,225 570,205 650,200 680,160 740,215 745,265 720,310 660,295 620,335 630,370 580,370 560,325 510,310'],
['C',3,'570,200 610,130 680,120 660,190'],
['C',2,'690,140 750,140 745,180 720,200'],
['A',5,'1090,1470 1180,1470 1210,1490 1200,1568 1090,1568'],
['A',0,'1115,1420 1170,1400 1200,1400 1190,1450 1150,1470'],
['A',0,'1240,1490 1310,1420 1420,1390 1425,1460 1340,1490 1290,1530 1240,1510'],
['A',4,'995,1550 1060,1480 1090,1480 1090,1568 990,1568'],
['A',5,'1255,1380 1350,1335 1400,1330 1430,1375 1470,1350 1520,1385 1560,1385 1560,1510 1445,1568 1395,1610 1330,1625 1290,1560 1290,1530 1340,1490 1425,1460 1420,1390 1260,1420'],
['C',5,'740,140 880,85 830,200 815,265 790,290 750,240'],
['C',5,'930,40 975,0 1019,-27 1100,14 1150,15 1130,70 1200,100 1170,135 1215,160 1000,150 960,160 940,130 880,100'],
['C',3,'1040,30 1100,30 1115,70 1075,90 1020,100 995,90'],
['C',4,'1020,120 1060,90 1095,110 1080,140 1030,145'],
['C',0,'1180,120 1210,80 1280,70 1285,125 1220,145'],
['C',0,'1320,180 1345,190 1375,275 1290,280 1250,275 1310,230'],
['C',0,'920,280 1040,275 1055,290 1040,320 1030,335 930,345'],
['B',5,'240,545 280,500 330,450 430,460 450,520 490,570 525,590 525,640 470,665 430,720 380,760 350,820 300,840 235,790 225,760 280,720 345,700 335,610 225,570'],
['B',4,'280,520 310,460 355,510 345,560 320,545'],
['B',3,'390,430 430,400 460,405 450,460 490,480 450,515 430,465'],
['B',4,'215,590 240,570 310,590 305,640 280,660 225,640'],
['B',3,'295,640 315,600 335,620 335,665'],
['B',0,'20,740 85,670 130,720 170,780 130,830 90,860 30,800 0,780'],
['B',3,'180,880 220,825 300,860 260,910'],
['B',0,'130,910 240,905 240,945 160,945'],
['B',5,'595,710 640,680 690,705 660,750 620,745'],
['B',4,'620,745 660,755 690,820 610,830'],
['B',0,'525,800 560,785 590,830 550,855'],
['B',1,'665,745 700,735 800,790 720,860 700,820'],
['B',0,'800,700 935,705 900,770 890,800 850,830 840,860 800,830 805,760'],
['B',4,'535,865 610,840 700,845 725,870 670,905 650,905 600,940 545,895'],
['B',0,'720,880 760,850 790,880 840,900 790,950 730,910'],
['B',1,'850,830 890,810 950,870 950,890 885,900 860,950 790,880'],
['B',4,'570,960 650,905 700,960 680,1005 650,1000 590,1020 565,1030'],
['B',5,'665,915 720,895 750,930 710,950'],
['B',5,'720,945 800,950 855,925 880,965 960,1020 950,1060 905,1050 870,1070 810,1050 790,990'],
['B',1,'680,1015 700,965 790,990 750,1010 700,1030'],
['B',1,'860,950 885,900 950,890 935,975'],
['B',4,'770,650 820,600 820,520 840,510 870,525 880,575 920,600 965,630 1000,620 945,690 935,705 800,700 765,670'],
['B',0,'1130,270 1170,225 1205,225 1225,265 1140,310'],
['B',5,'1215,210 1240,170 1285,185 1290,210 1260,250 1230,265'],
['B',4,'1285,190 1340,125 1365,140 1360,210 1300,295 1280,270 1240,260'],
['B',4,'1165,320 1230,270 1280,270 1295,320 1250,345 1200,385'],
['B',1,'1140,320 1165,315 1195,375 1115,390'],
['B',4,'980,390 1040,365 1080,360 1110,395 1160,395 1110,440 1060,470 1020,470 1005,430'],
['B',5,'950,450 985,430 1040,480 960,480 920,530 885,520 925,490'],
['B',4,'870,530 925,530 950,570 920,600 880,575'],
['B',1,'920,600 960,560 1090,555 1075,585 1060,600 1000,620 965,630'],
['B',5,'1090,520 1240,490 1250,530 1180,570 1130,600 1090,575'],
['B',0,'1250,530 1260,485 1310,470 1360,465 1400,510 1340,530 1280,550'],
['B',5,'1225,555 1250,530 1285,555 1330,610 1370,620 1370,660 1290,640 1255,570'],
['B',4,'1290,560 1340,530 1400,510 1470,570 1380,600 1340,620'],
['B',4,'1150,605 1190,575 1250,580 1260,610 1280,650 1230,665 1205,610'],
['B',3,'945,690 1000,630 1060,625 1075,590 1100,610 1080,650 1080,750 1060,780 1065,860 1045,880 1030,800 1000,760 940,725'],
['B',3,'1075,590 1130,610 1210,620 1200,660 1120,660 1090,640'],
['B',0,'895,770 940,730 1000,780 1035,795 1030,850 1040,880 1015,890 1000,870 1005,820 970,815 935,840 890,800'],
['B',5,'935,845 970,815 1005,820 1000,870 1020,890 985,960 960,1010 935,960'],
['B',0,'1075,755 1130,755 1125,810 1090,840 1075,830'],
['B',1,'1075,860 1100,840 1130,755 1210,810 1250,860 1230,895 1200,935 1130,940 1075,890'],
['B',3,'1240,720 1265,750 1290,840 1250,860 1220,820'],
['B',5,'1340,770 1400,705 1450,740 1515,740 1490,810 1510,850 1410,860 1370,850'],
['B',1,'1420,665 1465,655 1510,680 1515,730 1450,740'],
['B',1,'1270,775 1340,770 1370,850 1390,880 1320,865 1280,880'],
['B',0,'1015,890 1070,890 1130,940 1200,935 1230,895 1280,880 1320,865 1390,880 1440,960 1450,995 1380,1010 1330,1060 1210,1060 1150,1070 1135,1000 1110,975 1010,970 990,970'],
['B',4,'950,1030 985,970 1020,980 1070,1010 1040,1050 1035,1085 990,1050'],
['B',0,'900,1075 945,1050 1020,1070 1060,1090 1070,1150 985,1180 930,1150'],
['B',-1,'1310,950 1350,945 1390,920 1400,930 1360,980 1320,970'],
['B',-1,'1440,1140 1475,1135 1470,1150 1445,1150'],
['B',5,'1330,1060 1380,1010 1450,995 1500,985 1550,965 1582,1000 1570,1090 1500,1060 1495,1030 1400,1040'],
['B',5,'1165,1080 1210,1065 1320,1080 1320,1170 1340,1220 1290,1175'],
['B',4,'1170,1175 1280,1170 1280,1210 1230,1255 1190,1230'],
['B',0,'1330,1180 1400,1150 1490,1160 1485,1185 1400,1185 1340,1200'],
['B',3,'1000,1190 1060,1200 1120,1260 1140,1300 1100,1300 1040,1250'],
['B',2,'990,1290 1030,1255 1100,1300 1130,1280 1120,1220 1190,1230 1240,1290 1200,1310 1190,1370 1230,1405 1190,1420 1110,1350 1040,1340 1000,1330'],
['B',5,'1195,1305 1260,1340 1300,1350 1420,1340 1410,1440 1370,1485 1290,1470 1190,1470 1180,1420 1230,1400'],
['B',1,'1225,1395 1285,1375 1300,1430 1255,1440'],
['B',2,'1285,1320 1340,1330 1440,1290 1485,1260 1480,1290 1430,1340 1350,1345'],
['B',2,'360,810 385,760 430,740 450,735 490,825 450,860 440,910 380,880'],
['B',0,'445,910 455,860 490,835 530,870 545,895 490,925'],
['B',1,'250,910 290,890 340,925 375,950 330,975 240,950'],
['B',4,'375,1050 495,1040 495,1085 415,1155 385,1110'],
['B',3,'350,1250 375,1200 440,1165 495,1175 440,1225 400,1270 370,1280'],
['B',2,'435,1165 480,1090 560,1060 590,1020 650,1000 690,1015 700,1060 610,1070 600,1100 540,1130 500,1170'],
['B',1,'700,1040 760,1010 810,1050 870,1080 860,1120 790,1170 750,1130 700,1140'],
['B',1,'700,1190 740,1130 790,1175 880,1180 870,1220 885,1260 770,1320 760,1350 680,1370 650,1300 670,1260 710,1220'],
['B',3,'940,1235 985,1280 965,1310 945,1290'],
['B',5,'770,1320 845,1330 880,1360 860,1390 790,1370'],
['B',5,'915,1330 960,1300 990,1320 965,1345 975,1380 935,1400 910,1370'],
['B',4,'870,1390 910,1365 945,1440 885,1420'],
['B',1,'650,1400 760,1370 830,1400 900,1440 850,1460 800,1450 730,1470 700,1520 625,1480'],
['B',2,'850,1460 915,1450 915,1510 860,1520'],
['D',1,'470,430 500,370 510,320 630,300 640,350 590,400 580,440 510,465 470,490 430,510 345,505 365,440'],
['C',4,'1235,600 1350,510 1420,480 1430,560 1420,650 1380,615 1310,635 1250,610'],
['C',5,'1250,615 1310,635 1380,615 1410,670 1340,700 1270,660'],
['C',3,'1220,710 1270,665 1320,720 1320,760 1280,810 1210,830'],
['C',1,'1205,330 1205,285 1290,280 1360,320 1400,370 1355,410 1340,420 1250,415 1250,370'],
['C',5,'1095,340 1205,330 1250,370 1250,410 1340,420 1395,450 1350,510 1220,535 1170,560 1150,510 1100,480'],
['C',1,'1220,545 1290,515 1230,590 1210,590'],
['C',1,'500,470 590,420 670,490 690,530 640,530 510,510'],
['C',1,'445,505 500,500 510,570 445,570'],
['C',1,'425,615 450,570 510,600 520,690 545,710 515,755 465,770 430,680'],
['C',5,'670,485 710,445 820,420 845,480 850,530 700,540'],
['C',5,'515,620 640,610 790,630 845,680 840,715 770,700 725,650 700,660 640,640 580,670 550,705 520,680'],
['C',2,'575,680 640,640 700,665 725,705 680,740 620,760'],
['C',3,'520,755 550,705 575,700 625,760 680,745 685,790 660,815 625,800 555,795'],
['C',2,'830,335 860,310 930,345 1030,335 1060,375 1030,470 950,480 925,465 880,490 850,530 845,470 820,415 835,380'],
['C',4,'875,520 925,465 990,490 1040,480 1065,570 1020,620 975,590 890,620 850,660 800,620 880,590'],
['C',1,'465,770 510,755 555,795 625,800 660,830 670,920 610,985 540,1000 500,915 525,905 465,830'],
['C',5,'625,895 680,885 770,910 830,990 860,1005 760,1100 740,1130 740,1080 620,1090 520,1110 540,1000 620,970 670,925'],
['C',4,'565,1050 640,1030 650,1080 570,1095'],
['C',1,'620,1095 740,1090 745,1130 690,1145'],
['C',3,'900,915 950,905 1005,955 995,985 920,975'],
['C',4,'1075,950 1110,905 1130,930 1150,1000 1075,995'],
['C',2,'1100,1010 1145,1000 1140,1050 1115,1105 1080,1090 1090,1040'],
['D',1,'205,520 240,480 320,470 345,505 430,510 470,490 490,555 390,565 340,600 300,580 250,590'],
['D',4,'135,545 205,530 250,590 270,690 190,710 125,660 135,600'],
['D',1,'270,600 340,600 390,590 440,640 270,650'],
['D',3,'480,595 620,640 640,720 520,770 430,740 410,700 530,650'],
['D',1,'550,750 650,730 695,760 650,800 600,790'],
['D',4,'270,830 350,810 375,830 375,860 320,870 285,890'],
['D',4,'70,760 110,725 170,765 120,815 80,790'],
['D',0,'125,905 170,855 250,835 285,895 235,930 235,975 165,960'],
['D',1,'285,895 340,865 400,940 335,970 290,950'],
['D',2,'165,960 240,910 290,950 340,970 430,940 380,1000 310,1005 160,1000'],
['D',1,'380,1000 430,965 470,990 540,1035 480,1060 440,1110 430,1130 360,1110 320,1100'],
['D',4,'85,1215 130,1130 220,1110 260,1120 215,1170 140,1190'],
['D',1,'220,1150 270,1110 320,1100 300,1150 270,1170'],
['D',3,'310,1150 330,1100 360,1110 365,1180'],
['D',1,'270,1175 300,1155 370,1185 330,1210'],
['D',4,'365,1125 435,1130 430,1170 405,1200 370,1180'],
['D',2,'100,1220 200,1170 270,1180 330,1210 320,1270 240,1280 160,1295 110,1285'],
['D',1,'530,840 650,815 640,850 590,880 580,910 530,870'],
['D',5,'520,875 585,910 625,960 680,960 760,950 830,960 930,950 985,985 930,990 890,965 800,990 730,1020 660,1010 590,1020 540,1000 490,965 510,940'],
['D',0,'625,935 700,920 750,940 660,970'],
['D',5,'670,800 700,790 760,860 710,860'],
['D',1,'700,780 780,750 850,790 840,840 760,860'],
['D',4,'780,860 850,800 885,830 860,860 850,960 790,970'],
['D',5,'1030,760 1050,730 1100,735 1140,770 1120,810 1070,780'],
['D',4,'980,830 1020,770 1120,815 1115,880 1060,885 970,840'],
['D',5,'1120,820 1225,835 1215,880 1170,920 1115,870'],
['D',2,'470,985 540,1010 590,1015 660,1040 670,1065 620,1070 560,1035'],
['D',3,'765,1015 890,965 930,990 985,990 945,1050 880,1060 810,1070 800,1100 800,1150'],
['D',1,'805,1130 840,1160 900,1150 830,1220 810,1210'],
['D',5,'820,1210 860,1180 900,1230 965,1280 910,1335 885,1330 860,1280'],
['D',1,'900,1150 1010,1150 1050,1180 1020,1250 1060,1300 1040,1310 960,1280 900,1230'],
['D',0,'900,1350 970,1290 1040,1310 1020,1380 970,1360'],
['D',3,'870,1350 970,1360 1020,1380 1000,1440 975,1460 920,1455 890,1420'],
['D',2,'1040,1040 1100,1030 1100,1110 1050,1130'],
['D',1,'1060,1160 1110,1075 1165,1080 1185,1140 1175,1215 1140,1185 1090,1170'],
['D',0,'1185,1070 1200,1060 1225,1080 1185,1125 1165,1135'],
['D',4,'1010,1030 1060,1020 1040,1050'],
['O',2,'1300,430 1340,400 1372,362 1418,354 1418,408 1355,440'],
['O',5,'1417,365 1502,352 1496,405 1434,408'],
['O',0,'1479,408 1524,413 1535,449 1496,439'],
['O',5,'1276,464 1310,439 1456,444 1411,479 1344,510 1332,525 1276,505'],
['O',0,'1304,500 1321,469 1338,485 1338,520 1310,515'],
['O',0,'1383,474 1406,456 1425,479 1400,490'],
['O',1,'1456,449 1524,449 1507,490 1456,472'],
['O',4,'1502,474 1530,449 1513,490'],
['O',2,'1513,490 1524,462 1552,454 1547,502'],
['O',5,'1564,454 1592,439 1660,449 1665,464 1560,490'],
['O',0,'1547,502 1564,492 1671,500 1637,525 1575,530'],
['O',-1,'1662,532 1668,540 1700,554 1715,556 1700,548 1672,532']
];

const islandDots = [
['D',1105,1243,14,9],['D',1063,1365,13,6],['D',1027,1460,13,22],['D',1068,1302,10,8],
['O',1733,460,3,6],['O',1720,553,3,3],['O',1738,558,3,3],
['O',1440,1210,7,6],['O',1455,1222,9,7],['O',1450,1208,5,5],['O',1468,1215,4,4],['O',1452,1233,4,5],['O',1438,1222,5,4],['O',1474,1206,3,3]
];

const NS = 'http://www.w3.org/2000/svg';

function project(frameKey, text) {
  const f = frames[frameKey];
  return text.split(' ').map(function (pair) {
    const xy = pair.split(',');
    return (f[0] + xy[0] * f[2]).toFixed(1) + ',' + (f[1] + xy[1] * f[2]).toFixed(1);
  }).join(' ');
}

function drawPanel(root, baseClasses, patches, clipId) {
  const wrap = document.createElementNS(NS, 'g');
  wrap.setAttribute('filter', 'url(#rough)');
  
  
  root.appendChild(wrap);

  const clip = document.createElementNS(NS, 'clipPath');
  clip.setAttribute('id', clipId);
  counties.forEach(function (c) {
    const p = document.createElementNS(NS, 'polygon');
    p.setAttribute('points', project(c[0], c[1]));
    clip.appendChild(p);
  });
  wrap.appendChild(clip);

  const fills = document.createElementNS(NS, 'g');
  fills.setAttribute('clip-path', 'url(#' + clipId + ')');
  
  
  wrap.appendChild(fills);

  counties.forEach(function (c, i) {
    const p = document.createElementNS(NS, 'polygon');
    p.setAttribute('points', project(c[0], c[1]));
    p.setAttribute('fill', classColors[baseClasses[i]]);
    
    
    fills.appendChild(p);
  });

  patches.forEach(function (t) {
    const p = document.createElementNS(NS, 'polygon');
    p.setAttribute('points', project(t[0], t[2]));
    p.setAttribute('fill', t[1] < 0 ? holeColor : classColors[t[1]]);
    p.setAttribute('stroke', '#8f8f8f');
    p.setAttribute('stroke-width', '1');
    p.setAttribute('stroke-linejoin', 'round');
    
    
    fills.appendChild(p);
  });

  counties.forEach(function (c) {
    const p = document.createElementNS(NS, 'polygon');
    p.setAttribute('points', project(c[0], c[1]));
    p.setAttribute('fill', 'none');
    p.setAttribute('stroke', '#000');
    p.setAttribute('stroke-width', '4');
    p.setAttribute('stroke-linejoin', 'round');
    
    
    wrap.appendChild(p);
  });

  islandDots.forEach(function (d) {
    const f = frames[d[0]];
    const e = document.createElementNS(NS, 'ellipse');
    e.setAttribute('cx', f[0] + d[1] * f[2]);
    e.setAttribute('cy', f[1] + d[2] * f[2]);
    e.setAttribute('rx', d[3] * (d[0] === 'D' ? f[2] : 1));
    e.setAttribute('ry', d[4] * (d[0] === 'D' ? f[2] : 1));
    e.setAttribute('fill', '#000');
    
    
    wrap.appendChild(e);
  });
}

drawPanel(document.getElementById('panel-a'), baseA, patchesA, 'land-a');
drawPanel(document.getElementById('panel-b'), baseB, patchesB, 'land-b');
</script>
</body>
</html>
